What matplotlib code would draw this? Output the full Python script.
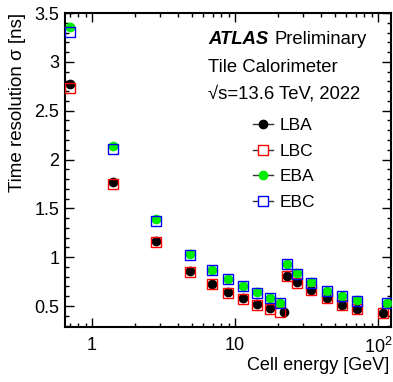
import matplotlib
matplotlib.use("Agg")
import matplotlib.pyplot as plt
from matplotlib.lines import Line2D
from matplotlib.ticker import LogLocator, MultipleLocator, NullFormatter, FuncFormatter

plt.rcParams['font.family'] = ['Liberation Sans', 'DejaVu Sans']
plt.rcParams['mathtext.fontset'] = 'custom'
plt.rcParams['mathtext.rm'] = 'Liberation Sans'

energy_lba = [0.7, 1.4, 2.8, 4.85, 6.85, 8.85, 11.3, 14.3, 17.5, 21.8, 23.1, 27.2, 34.1, 43.9, 55.8, 71, 108]
energy_lbc = [0.7, 1.4, 2.8, 4.85, 6.85, 8.85, 11.3, 14.3, 17.5, 20.7, 23.1, 27.2, 34.1, 43.9, 55.8, 71, 108]
energy_eb = [0.7, 1.4, 2.8, 4.85, 6.85, 8.85, 11.3, 14.3, 17.5, 20.7, 23.1, 27.2, 34.1, 43.9, 55.8, 71, 115]

lba = [2.77, 1.767, 1.166, 0.856, 0.726, 0.644, 0.58, 0.52, 0.477, 0.443, 0.81, 0.743, 0.665, 0.58, 0.51, 0.467, 0.433]
lbc = [2.73, 1.75, 1.153, 0.85, 0.722, 0.636, 0.575, 0.515, 0.47, 0.443, 0.81, 0.74, 0.66, 0.585, 0.51, 0.47, 0.433]
eba = [3.36, 2.142, 1.39, 1.03, 0.87, 0.777, 0.706, 0.64, 0.583, 0.535, 0.93, 0.836, 0.743, 0.658, 0.603, 0.56, 0.53]
ebc = [3.31, 2.105, 1.375, 1.02, 0.865, 0.772, 0.70, 0.635, 0.58, 0.535, 0.925, 0.83, 0.74, 0.655, 0.60, 0.555, 0.53]

xtick_vals = [1, 10, 100]
xtick_labels = ['1', '10', '$10^2$']

fig = plt.figure(figsize=(3.93, 3.82), dpi=100)
ax = fig.add_axes([65/393, 1-327/382, (391-65)/393, (327-13)/382])

ms_c = 6.0
ms_s = 7.0
ax.plot(energy_lba, lba, 'o', color='black', ms=ms_c, zorder=3)
ax.plot(energy_lbc, lbc, 's', mfc='none', mec='red', mew=1.0, ms=ms_s, zorder=4)
ax.plot(energy_eb, eba, 'o', color='#00ee00', ms=ms_c, zorder=5)
ax.plot(energy_eb, ebc, 's', mfc='none', mec='blue', mew=1.0, ms=ms_s, zorder=6)

ax.set_xscale('log')
ax.set_xlim(0.647, 123)
ax.set_ylim(0.285, 3.5)
ax.set_xticks(xtick_vals)
ax.set_xticklabels(xtick_labels)
ax.xaxis.set_minor_locator(LogLocator(base=10, subs=[2, 3, 4, 5, 6, 7, 8, 9], numticks=20))
ax.xaxis.set_minor_formatter(NullFormatter())
ax.yaxis.set_major_locator(MultipleLocator(0.5))
ax.yaxis.set_minor_locator(MultipleLocator(0.1))
ax.yaxis.set_major_formatter(FuncFormatter(lambda v, p: ('%g' % round(v, 2))))

ax.tick_params(which='both', direction='in', top=True, right=True, labelsize=13, width=1.0)
ax.tick_params(which='major', length=6.7)
ax.tick_params(which='minor', length=3.2)
ax.tick_params(axis='x', pad=7)
ax.tick_params(axis='y', pad=4)
for s in ax.spines.values():
    s.set_linewidth(1.5)

fig.text(17.5/393, 1-13/382, 'Time resolution σ [ns]', rotation=90, ha='center', va='top', fontsize=13.5)
fig.text(389/393, 1-365/382, 'Cell energy [GeV]', ha='right', va='center', fontsize=13)

fig.text(208/393, 1-39/382, 'ATLAS', fontsize=13.3, fontweight='bold', fontstyle='italic', va='center')
fig.text(275/393, 1-39/382, 'Preliminary', fontsize=13.3, va='center')
fig.text(208/393, 1-67/382, 'Tile Calorimeter', fontsize=13.3, va='center')
fig.text(208/393, 1-94/382, '√s=13.6 TeV, 2022', fontsize=13.3, va='center')

handles = [
    Line2D([], [], color='#333333', lw=1, marker='o', ms=ms_c, mfc='black', mec='black'),
    Line2D([], [], color='#333333', lw=1, marker='s', ms=ms_s, mfc='white', mec='red', mew=1.0),
    Line2D([], [], color='#333333', lw=1, marker='o', ms=ms_c, mfc='#00ee00', mec='#00ee00'),
    Line2D([], [], color='#333333', lw=1, marker='s', ms=ms_s, mfc='white', mec='blue', mew=1.0),
]
ax.legend(handles, ['LBA', 'LBC', 'EBA', 'EBC'], loc='upper left',
          bbox_to_anchor=((252.7-65)/326, 1-(118-13)/314), frameon=False,
          fontsize=12.5, handlelength=1.17, handletextpad=0.4, labelspacing=0.6,
          borderpad=0, borderaxespad=0)

fig.savefig('out.png', dpi=100)
